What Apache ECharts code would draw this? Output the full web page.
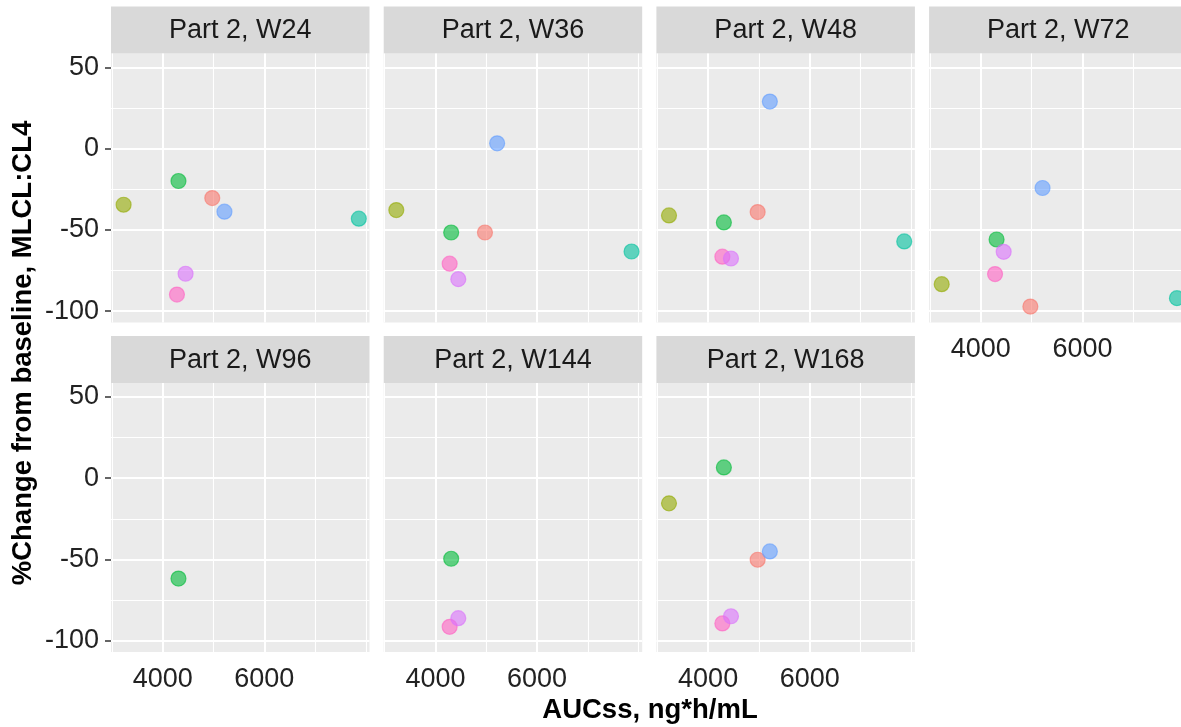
<!DOCTYPE html>
<html>
<head>
<meta charset="utf-8">
<script src="https://cdn.jsdelivr.net/npm/echarts@6/dist/echarts.min.js"></script>
<style>
html,body{margin:0;padding:0;background:#fff;overflow:hidden;}
#chart{width:1200px;height:727px;}
</style>
</head>
<body>
<div id="chart"></div>
<script>
// ---- Data ----
const weeks = ['Part 2, W24','Part 2, W36','Part 2, W48','Part 2, W72','Part 2, W96','Part 2, W144','Part 2, W168'];
const subjectColors = ['#F8766D','#93AA00','#00BA38','#00C19F','#619CFF','#DB72FB','#FF61C3'];
const subjectAUC = [4975, 3230, 4310, 7860, 5215, 4450, 4280];
const chgRed    = [-30.4, -51.6, -39.0, -97.2, null,  null,  -50.2];
const chgOlive  = [-34.5, -37.8, -41.1, -83.4, null,  null,  -15.5];
const chgGreen  = [-19.9, -51.6, -45.4, -55.9, -61.8, -49.6,   6.6];
const chgTeal   = [-43.1, -63.3, -57.1, -92.0, null,  null,  null];
const chgBlue   = [-38.8,   3.3,  29.0, -24.2, null,  null,  -45.1];
const chgPink   = [-89.8, -70.8, -66.5, -77.2, null,  -91.5, -89.4];
const chgViolet = [-77.0, -80.3, -67.6, -63.5, null,  -86.2, -85.0];
const subjectChanges = [chgRed, chgOlive, chgGreen, chgTeal, chgBlue, chgViolet, chgPink];
const drawOrder = [0, 1, 2, 3, 4, 6, 5];
const xLimits = [2982, 8070];
const yLimits = [-107, 58.6];
const xMajor = [4000, 6000];
const xMinor = [3000, 5000, 7000, 8000];
const yMajor = [50, 0, -50, -100];
const yMinor = [25, -25, -75];
const xTitle = 'AUCss, ng*h/mL';
const yTitle = '%Change from baseline, MLCL:CL4';

// ---- Layout ----
const FONT = '"Liberation Sans", Arial, sans-serif';
const left0 = 111, colStep = 272.7, panelW = 258.5, panelH = 269;
const rowTops = [53.5, 383];
const stripH = 47;

const grids = [], xAxes = [], yAxes = [], series = [], graphics = [];
weeks.forEach((wk, i) => {
  const r = Math.floor(i / 4), c = i % 4;
  const left = left0 + c * colStep, top = rowTops[r];
  grids.push({left: left, width: panelW, top: top, height: panelH, show: true,
              backgroundColor: '#EBEBEB', borderWidth: 0, containLabel: false});
  const showX = (i >= 3);
  const showY = (c === 0);
  xAxes.push({type: 'value', gridIndex: i, min: xLimits[0], max: xLimits[1],
    splitLine: {show: false}, axisLine: {show: false},
    axisTick: {show: showX, length: 6, lineStyle: {color: '#333', width: 1.5}, customValues: xMajor},
    axisLabel: {show: showX, customValues: xMajor, margin: 14, color: '#222',
                fontFamily: FONT, fontSize: 27, formatter: v => String(v)}});
  yAxes.push({type: 'value', gridIndex: i, min: yLimits[0], max: yLimits[1],
    splitLine: {show: false}, axisLine: {show: false},
    axisTick: {show: showY, length: 6, lineStyle: {color: '#333', width: 1.5}, customValues: yMajor},
    axisLabel: {show: showY, customValues: yMajor, margin: 12, color: '#222',
                fontFamily: FONT, fontSize: 27, formatter: v => String(v)}});
  const ml = [];
  xMinor.forEach(v => ml.push({xAxis: v, lineStyle: {width: 1.1}}));
  yMinor.forEach(v => ml.push({yAxis: v, lineStyle: {width: 1.1}}));
  xMajor.forEach(v => ml.push({xAxis: v, lineStyle: {width: 2}}));
  yMajor.forEach(v => ml.push({yAxis: v, lineStyle: {width: 2}}));
  series.push({type: 'scatter', xAxisIndex: i, yAxisIndex: i, data: [], z: 1, silent: true,
    markLine: {silent: true, symbol: ['none','none'], z: 1, animation: false,
      label: {show: false}, lineStyle: {color: '#FFFFFF', type: 'solid'}, data: ml}});
  const pts = [];
  drawOrder.forEach(s => {
    const v = subjectChanges[s][i];
    if (v !== null) pts.push({value: [subjectAUC[s], v],
      itemStyle: {color: subjectColors[s], borderColor: subjectColors[s]}});
  });
  series.push({type: 'scatter', xAxisIndex: i, yAxisIndex: i, symbolSize: 15, z: 3,
    itemStyle: {opacity: 0.6, borderWidth: 1.2}, data: pts, animation: false});
  graphics.push({type: 'rect', shape: {x: left, y: top - stripH, width: panelW, height: stripH},
    style: {fill: '#D9D9D9'}, silent: true});
  graphics.push({type: 'text', x: left + panelW / 2, y: top - stripH / 2 + 1,
    style: {text: wk, fill: '#1A1A1A', font: '27px ' + FONT, align: 'center', verticalAlign: 'middle'}});
});
graphics.push({type: 'text', x: 650, y: 710,
  style: {text: xTitle, fill: '#000', font: 'bold 27.5px ' + FONT, align: 'center', verticalAlign: 'middle'}});
graphics.push({type: 'text', x: 23, y: 353, rotation: Math.PI / 2,
  style: {text: yTitle, fill: '#000', font: 'bold 27.5px ' + FONT, align: 'center', verticalAlign: 'middle'}});

const chart = echarts.init(document.getElementById('chart'), null, {renderer: 'canvas'});
chart.setOption({
  animation: false,
  backgroundColor: '#FFFFFF',
  grid: grids, xAxis: xAxes, yAxis: yAxes, series: series, graphic: graphics
});
</script>
</body>
</html>
